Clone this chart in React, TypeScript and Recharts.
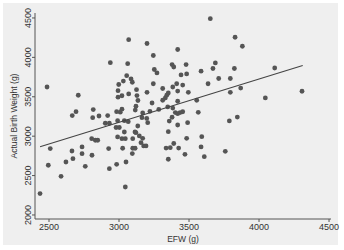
import React from 'react';
import { ScatterChart, Scatter, XAxis, YAxis } from 'recharts';

// estimated fetal weight (g)
const efw = [
  3069, 2938, 3062, 2486, 2709, 3055, 3086, 3095, 3031, 2998,
  2993, 3021, 2993, 3069, 3125, 3128, 3135, 2693, 2816, 2666,
  2812, 2857, 2919, 3021, 3009, 3116, 2902, 2931, 2990, 3038,
  2979, 3002, 3038, 3114, 2990, 3021, 3045, 3098, 2805, 2831,
  2848, 2509, 2664, 2736, 2736, 2926, 3026, 3098, 3115, 3095,
  2807, 2671, 2621, 2495, 2759, 3050, 2983, 2931, 2586, 3045,
  2436, 3652, 3829, 3200, 3419, 3245, 3379, 3391, 3479, 3252,
  3271, 3443, 3483, 3586, 3688, 3671, 3712, 3795, 3824, 3636,
  3245, 3412, 3455, 3312, 3384, 3419, 3352, 3341, 3331, 3200,
  3495, 3236, 3312, 3419, 3555, 3795, 3284, 3348, 3384, 3402,
  3419, 3436, 3455, 3221, 3566, 3121, 3169, 3379, 3359, 3164,
  3205, 3134, 3121, 3145, 3169, 3157, 3176, 3193, 3419, 3490,
  3352, 3483, 3591, 3391, 3336, 3366, 3426, 3586, 3471, 3609,
  3759, 3788, 3352, 3881, 4112, 3869, 4045, 4307, 3845, 3198,
  3066, 2983,
];

// actual birth weight (g), same order as efw
const birthWeight = [
  4225, 3933, 3920, 3624, 3519, 3768, 3726, 3684, 3699, 3656,
  3577, 3513, 3495, 3536, 3590, 3515, 3453, 3311, 3337, 3262,
  3235, 3256, 3262, 3342, 3305, 3331, 3164, 3164, 3197, 3197,
  3110, 3110, 3053, 3053, 2990, 2968, 2968, 2968, 2968, 2948,
  2948, 2843, 2812, 2863, 2778, 2843, 2847, 2847, 2847, 2779,
  2758, 2714, 2672, 2631, 2618, 2672, 2643, 2588, 2491, 2355,
  2271, 4491, 4255, 4176, 4100, 4024, 3909, 3878, 3909, 3846,
  3802, 3777, 3790, 3825, 3930, 3859, 3732, 3732, 3859, 3665,
  3665, 3665, 3648, 3605, 3624, 3572, 3548, 3520, 3485, 3557,
  3557, 3421, 3456, 3443, 3456, 3557, 3339, 3371, 3357, 3300,
  3285, 3300, 3310, 3315, 3303, 3380, 3294, 3240, 3192, 3235,
  3171, 3129, 3044, 3003, 2973, 2918, 2876, 2876, 3142, 3171,
  3057, 2973, 2994, 2907, 2849, 2854, 2849, 2863, 2770, 2740,
  2808, 3193, 2707, 4141, 3865, 3610, 3485, 3570, 3242, 3225,
  3184, 3311,
];

// fitted line end points
const fitEfw = [2436, 4312];
const fitWeight = [2867, 3897];

const xTicks = [2500, 3000, 3500, 4000, 4500];
const yTicks = [2000, 2500, 3000, 3500, 4000, 4500];

const points = efw.map((x, i) => ({ x, y: birthWeight[i] }));
const fit = fitEfw.map((x, i) => ({ x, y: fitWeight[i] }));

const INK = '#333333';
const AXIS = '#555555';

const YTick = ({ x, y, payload }: any) => (
  <text
    x={x}
    y={y}
    transform={`rotate(-90, ${x}, ${y})`}
    textAnchor="middle"
    fontSize={9}
    fill={INK}
  >
    {payload.value}
  </text>
);

const Dot = (p: any) => <circle cx={p.cx} cy={p.cy} r={2.4} fill="#555555" />;

export default function App() {
  return (
    <div style={{ position: 'absolute', left: 0, top: 0, width: 344, height: 250, background: '#fff' }}>
      <div style={{ position: 'absolute', left: 3, top: 3, width: 335, height: 242, background: '#efefef' }} />
      <div style={{ position: 'absolute', left: 0, top: 0 }}>
        <ScatterChart
          width={344}
          height={250}
          margin={{ top: 13, right: 13, bottom: 1, left: 8 }}
          style={{ fontFamily: '"Liberation Sans", Arial, sans-serif' }}
        >
          <XAxis
            type="number"
            dataKey="x"
            domain={[2400, 4514]}
            ticks={xTicks}
            allowDataOverflow
            height={30}
            tickSize={3}
            tick={{ fontSize: 9, fill: INK }}
            stroke={AXIS}
            label={{ value: 'EFW (g)', position: 'insideBottom', offset: 7, fontSize: 8.5, fill: INK }}
          />
          <YAxis
            type="number"
            dataKey="y"
            domain={[1949, 4563]}
            ticks={yTicks}
            allowDataOverflow
            width={27}
            tickSize={3}
            tickMargin={1}
            tick={<YTick />}
            stroke={AXIS}
            label={{
              value: 'Actual Birth Weight (g)',
              angle: -90,
              position: 'insideLeft',
              offset: 6,
              fontSize: 8.5,
              fill: INK,
              style: { textAnchor: 'middle' },
            }}
          />
          <Scatter data={points} shape={Dot} isAnimationActive={false} />
          <Scatter
            data={fit}
            line={{ stroke: '#444444', strokeWidth: 1.1 }}
            shape={() => <g />}
            isAnimationActive={false}
          />
        </ScatterChart>
      </div>
    </div>
  );
}
